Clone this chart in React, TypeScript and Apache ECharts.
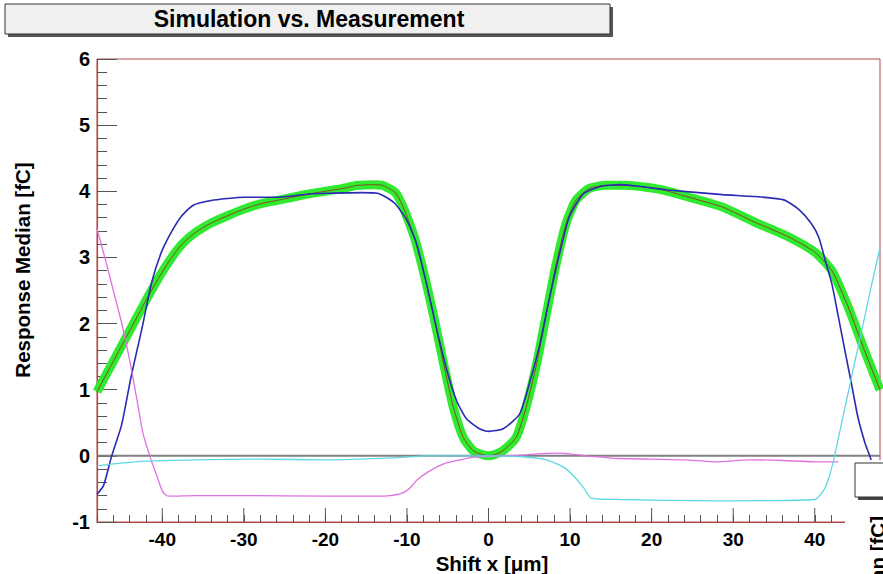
import React, { useEffect, useRef } from 'react';
import * as echarts from 'echarts';

const X_MIN = -48;
const X_MAX = 48;
const Y_MIN = -1;
const Y_MAX = 6;
const X_MAJOR_TICKS = [-40, -30, -20, -10, 0, 10, 20, 30, 40];

// Measurement (green band with dark centre line)
const measX = [-48, -47, -46, -45, -44, -43, -42, -41, -40, -39, -38, -37, -36, -35, -34, -32, -30, -28, -26, -24, -22, -20, -18, -16, -14, -13, -12, -11.5, -11, -10.3, -9.1, -7.9, -6.7, -5.5, -4.3, -3.1, -1.9, -0.8, 0, 0.8, 1.8, 3.4, 4.6, 5.9, 7.1, 8.3, 9.5, 10.7, 12.3, 14.4, 16.8, 19.3, 21.7, 24.6, 28.7, 32.7, 36.8, 40.0, 42.1, 44.1, 45.8, 47.7, 48];
const measY = [0.97, 1.2, 1.43, 1.66, 1.89, 2.12, 2.35, 2.57, 2.78, 2.97, 3.14, 3.27, 3.37, 3.45, 3.52, 3.63, 3.73, 3.81, 3.86, 3.91, 3.96, 4.0, 4.04, 4.09, 4.1, 4.09, 4.03, 3.99, 3.9, 3.71, 3.31, 2.75, 2.1, 1.39, 0.73, 0.28, 0.08, 0.02, 0.0, 0.02, 0.08, 0.28, 0.73, 1.39, 2.15, 2.9, 3.51, 3.86, 4.04, 4.09, 4.09, 4.06, 4.01, 3.91, 3.76, 3.53, 3.31, 3.08, 2.8, 2.25, 1.69, 1.09, 1.0];

// Simulation (blue)
const simX = [-48, -47.2, -46.2, -45.0, -43.8, -42.5, -41.3, -40.1, -38.8, -37.6, -36.2, -34.0, -32.0, -30.0, -26, -22, -19.7, -15.6, -13.6, -11.6, -10.0, -8.8, -7.6, -6.3, -5.1, -3.9, -2.7, -1.1, 0, 1.8, 3.8, 5.0, 6.3, 7.5, 8.7, 9.9, 11.6, 13.6, 16.1, 18.1, 20.1, 22, 28.7, 32.7, 36.2, 38.0, 39.6, 40.5, 41.3, 42.1, 42.9, 43.7, 44.5, 45.3, 46.2, 46.8, 47.5, 48];
const simY = [-0.58, -0.45, 0.0, 0.46, 1.21, 1.92, 2.62, 3.08, 3.4, 3.63, 3.79, 3.86, 3.89, 3.91, 3.91, 3.96, 3.97, 3.98, 3.97, 3.83, 3.56, 3.2, 2.6, 1.89, 1.29, 0.83, 0.56, 0.41, 0.37, 0.41, 0.63, 1.09, 1.69, 2.4, 3.05, 3.61, 3.96, 4.07, 4.1, 4.08, 4.05, 4.02, 3.95, 3.92, 3.87, 3.73, 3.51, 3.3, 2.95, 2.6, 2.1, 1.59, 1.09, 0.58, 0.18, -0.02, -0.35, -0.55];

// Difference curve (magenta)
const magX = [-48, -47, -46, -45, -44, -43, -42.4, -41.4, -40.5, -40, -39.5, -39, -36, -30, -20, -14, -12, -10.5, -9.5, -8.8, -7.5, -5.5, -3.5, -1.8, 0, 2, 4, 6, 8.7, 10, 12, 14, 16, 20, 24, 28, 32, 36, 40, 42.9];
const magY = [3.43, 2.98, 2.5, 2.02, 1.45, 0.78, 0.36, -0.05, -0.36, -0.53, -0.6, -0.61, -0.6, -0.6, -0.61, -0.61, -0.6, -0.56, -0.47, -0.37, -0.25, -0.12, -0.06, -0.02, -0.01, 0.0, 0.01, 0.03, 0.04, 0.03, 0.0, -0.02, -0.04, -0.05, -0.06, -0.09, -0.06, -0.07, -0.09, -0.09];

// Difference curve (cyan)
const cyanX = [-48, -46, -42, -36, -28, -20, -11.6, -7.6, 0, 3.8, 7.1, 9.2, 10.4, 11.6, 12.6, 16, 28, 40, 41.2, 41.8, 42.4, 43, 44, 45, 46, 47, 48];
const cyanY = [-0.15, -0.12, -0.08, -0.06, -0.05, -0.06, -0.03, 0.0, 0.0, -0.01, -0.06, -0.17, -0.3, -0.47, -0.64, -0.66, -0.68, -0.66, -0.5, -0.3, -0.02, 0.33, 0.9, 1.47, 2.03, 2.6, 3.15];

const zip = (xs: number[], ys: number[]) => xs.map((x, i) => [x, ys[i]]);

const FONT = '"Liberation Sans", Arial, Helvetica, sans-serif';
const FRAME = '#b04848';
const TICK = '#555555';

export default function App() {
  const ref = useRef<HTMLDivElement>(null);
  useEffect(() => {
    if (!ref.current) return;
    const chart = echarts.init(ref.current, null, { renderer: 'svg' });
    const lineBase = { type: 'line', showSymbol: false, symbol: 'none', silent: true, animation: false };
    chart.setOption({
      animation: false,
      backgroundColor: '#ffffff',
      grid: { left: 97, top: 59, width: 789, height: 463, show: true, borderColor: FRAME, borderWidth: 1, containLabel: false },
      xAxis: {
        type: 'value', min: X_MIN, max: X_MAX, interval: 2,
        axisLine: { show: true, onZero: false, lineStyle: { color: FRAME, width: 1.2 } },
        axisTick: { show: true, inside: true, length: 7, lineStyle: { color: TICK, width: 1 } },
        axisLabel: {
          show: true, margin: 8, color: '#000', fontFamily: FONT, fontWeight: 'bold', fontSize: 19,
          formatter: (v: number) => (Math.round(v) % 10 === 0 && Math.abs(v) < 45 ? String(Math.round(v)) : ''),
        },
        splitLine: { show: false },
      },
      yAxis: {
        type: 'value', min: Y_MIN, max: Y_MAX, interval: 1,
        axisLine: { show: true, onZero: false, lineStyle: { color: FRAME, width: 1.2 } },
        axisTick: { show: true, inside: true, length: 20, lineStyle: { color: TICK, width: 1 } },
        minorTick: { show: true, splitNumber: 5, length: 10, lineStyle: { color: TICK, width: 1 } },
        axisLabel: { show: true, margin: 7, color: '#000', fontFamily: FONT, fontWeight: 'bold', fontSize: 20 },
        splitLine: { show: false },
      },
      series: [
        { ...lineBase, name: 'meas', data: zip(measX, measY), smooth: 0.2, lineStyle: { color: '#30ea30', width: 9 }, z: 2 },
        { ...lineBase, name: 'measCentre', data: zip(measX, measY), smooth: 0.2, lineStyle: { color: '#8a4a22', width: 1 }, z: 3 },
        { ...lineBase, name: 'zero', data: [[X_MIN, 0], [X_MAX, 0]], lineStyle: { color: '#808080', width: 2 }, z: 4 },
        { ...lineBase, name: 'sim', data: zip(simX, simY), smooth: 0.2, lineStyle: { color: '#2a2ab4', width: 1.6 }, z: 5 },
        { ...lineBase, name: 'diffA', data: zip(magX, magY), smooth: 0.2, lineStyle: { color: '#e070e0', width: 1.3 }, z: 6 },
        { ...lineBase, name: 'diffB', data: zip(cyanX, cyanY), smooth: 0.2, lineStyle: { color: '#5fd8e6', width: 1.3 }, z: 6 },
        {
          type: 'custom', name: 'majorTicks', silent: true, z: 7,
          data: X_MAJOR_TICKS.map((v) => [v, Y_MIN]),
          renderItem: (_p: any, api: any) => {
            const pt = api.coord([api.value(0), api.value(1)]);
            return { type: 'line', shape: { x1: pt[0], y1: pt[1], x2: pt[0], y2: pt[1] - 14 }, style: { stroke: TICK, lineWidth: 1 } };
          },
        },
      ],
      graphic: [
        { type: 'rect', shape: { x: 8, y: 7, width: 605, height: 30 }, style: { fill: '#555' }, z: 10 },
        { type: 'rect', shape: { x: 5, y: 4, width: 605, height: 30 }, style: { fill: '#f0f0f0', stroke: '#333', lineWidth: 1 }, z: 11 },
        { type: 'text', x: 309, y: 19, z: 12, style: { text: 'Simulation vs. Measurement', font: `bold 23px ${FONT}`, fill: '#000', textAlign: 'center', textVerticalAlign: 'middle' } },
        { type: 'text', x: 22, y: 270, rotation: Math.PI / 2, z: 12, style: { text: 'Response Median [fC]', font: `bold 20.5px ${FONT}`, fill: '#000', textAlign: 'center', textVerticalAlign: 'middle' } },
        { type: 'text', x: 492, y: 563, z: 12, style: { text: 'Shift x [μm]', font: `bold 20.5px ${FONT}`, fill: '#000', textAlign: 'center', textVerticalAlign: 'middle' } },
        { type: 'rect', shape: { x: 845, y: 460, width: 40, height: 114 }, style: { fill: '#fff' }, z: 20 },
        { type: 'rect', shape: { x: 858, y: 466, width: 40, height: 34 }, style: { fill: '#444' }, z: 21 },
        { type: 'rect', shape: { x: 855, y: 463, width: 40, height: 34 }, style: { fill: '#fff', stroke: '#333', lineWidth: 1 }, z: 22 },
        { type: 'text', x: 877, y: 516, rotation: Math.PI / 2, z: 23, style: { text: 'Response Median [fC]', font: `bold 20.5px ${FONT}`, fill: '#000', textAlign: 'right', textVerticalAlign: 'middle' } },
      ],
    });
    return () => chart.dispose();
  }, []);
  return <div ref={ref} style={{ position: 'absolute', left: 0, top: 0, width: 883, height: 574, overflow: 'hidden' }} />;
}
